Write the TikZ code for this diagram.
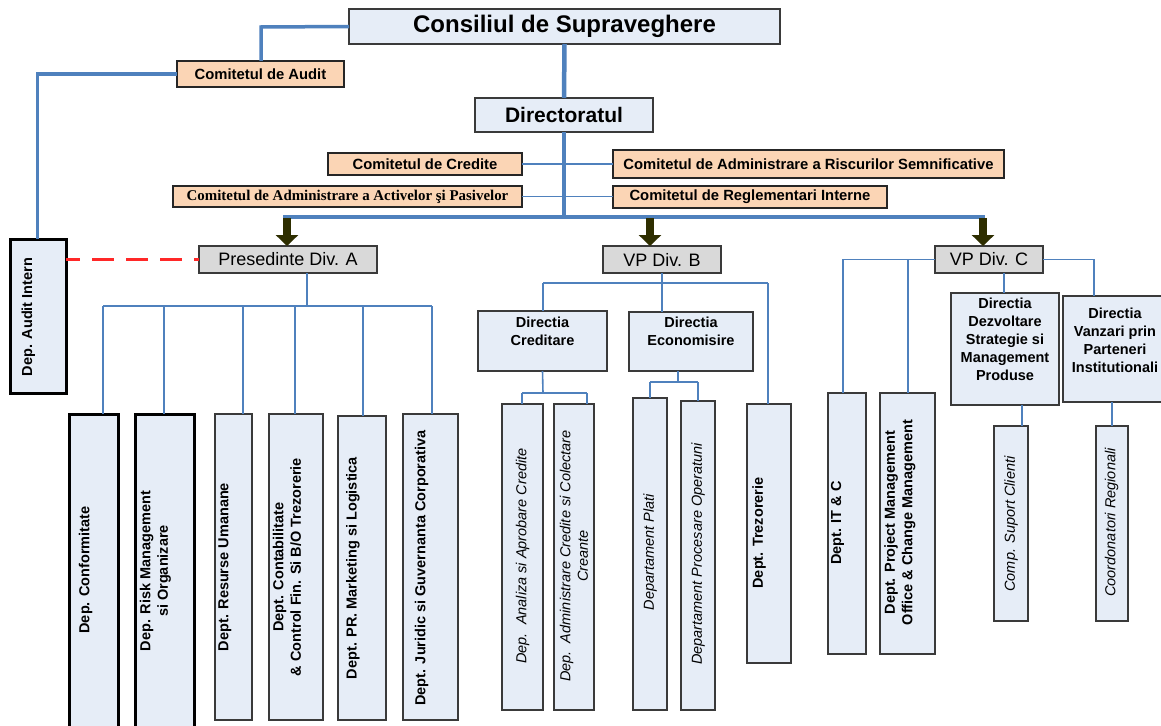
\documentclass[tikz,border=0pt]{standalone}
\usepackage{fontspec}
\setmainfont{Liberation Sans}
\newfontfamily\timesf{Liberation Serif}
\usetikzlibrary{arrows.meta}
\definecolor{boxblue}{HTML}{E6EDF7}
\definecolor{peach}{HTML}{FBD5B5}
\definecolor{divgray}{HTML}{D9D9D9}
\definecolor{lineblue}{HTML}{4F81BD}
\definecolor{boxline}{HTML}{3A3A3A}
\definecolor{olivedark}{HTML}{2E2E00}
\definecolor{auditred}{RGB}{255,40,40}
\tikzset{
  bxn/.style={draw=boxline, line width=1.5pt, fill=boxblue, inner sep=0pt, outer sep=0pt},
  bxthick/.style={bxn, draw=black, line width=3pt},
  commbox/.style={draw=black!85, line width=1.5pt, fill=peach, inner sep=0pt, outer sep=0pt, font=\fontsize{14.8}{17}\selectfont\bfseries},
  divbox/.style={draw=boxline, line width=1.5pt, fill=divgray, inner sep=0pt, outer sep=0pt, font=\fontsize{18}{21}\selectfont},
  thkline/.style={draw=lineblue, line width=4.5pt},
  medline/.style={draw=lineblue, line width=3.5pt},
  thnline/.style={draw=lineblue, line width=1.6pt},
  redline/.style={draw=auditred, line width=2.4pt, dash pattern=on 22pt off 12pt, dash phase=8pt},
  bigarrow/.style={draw=olivedark, line width=8pt, -{Triangle[width=22pt,length=11pt]}},
  vtext/.style={rotate=90, align=center, inner sep=0pt, font=\fontsize{14.5}{17.5}\selectfont\bfseries},
  vtexti/.style={rotate=90, align=center, inner sep=0pt, font=\fontsize{14.5}{17.5}\selectfont\itshape},
  htext/.style={align=center, inner sep=0pt, anchor=north, font=\fontsize{14.5}{18}\selectfont\bfseries},
}
\begin{document}
\begin{tikzpicture}[x=1pt,y=-1pt]
\fill[white] (0,0) rectangle (1161,725);
\useasboundingbox (0,0) rectangle (1161,725);

% ---------- top level ----------
\node[bxn, minimum width=431pt, minimum height=35pt, font=\fontsize{24}{28}\selectfont\bfseries] (cons) at (564.5,26.5) {Consiliul de Supraveghere};
\node[commbox, minimum width=167pt, minimum height=26pt] (audit) at (260.5,74) {Comitetul de Audit};
\node[bxn, minimum width=178pt, minimum height=34pt, font=\fontsize{21}{24}\selectfont\bfseries] (dir) at (564,115) {Directoratul};
\node[commbox, minimum width=194pt, minimum height=22pt] (cred) at (425,164) {Comitetul de Credite};
\node[commbox, minimum width=391pt, minimum height=28pt] (risc) at (808.5,164) {Comitetul de Administrare a Riscurilor Semnificative};
\node[commbox, minimum width=349pt, minimum height=21pt, font=\fontsize{14.9}{17}\timesf\bfseries] (activ) at (347.5,196.5) {Comitetul de Administrare a Activelor şi Pasivelor};
\node[commbox, minimum width=274pt, minimum height=22pt] (regl) at (750,197) {Comitetul de Reglementari Interne};

\node[bxthick, minimum width=56pt, minimum height=154pt] (ai) at (38,316) {};
\node[vtext] (aiT) at (28.5,317) {Dep. Audit Intern};

% ---------- top connectors ----------
\coordinate (cAud) at (261,27);
\draw[medline] (cons.west) -- (cAud) -- (cAud |- audit.north);
\coordinate (cAi) at (37.5,74);
\draw[medline] (audit.west) -- (cAi) -- (cAi |- ai.north);
\draw[thkline] (cons.south) -- (dir.north);
\coordinate (busL) at (283,217);
\coordinate (busR) at (985,217);
\draw[thkline] (dir.south) -- (dir.south |- busL);
\draw[thkline] (busL) -- (busR);
\draw[thnline] (cred.east) -- (risc.west);
\draw[thnline] (activ.east) -- (activ.east -| regl.west);

% ---------- division heads ----------
\node[divbox, minimum width=178pt, minimum height=27pt] (pa) at (288,259.5) {Presedinte Div. A};
\node[divbox, minimum width=118pt, minimum height=27pt] (vb) at (662,259.5) {VP Div. B};
\node[divbox, minimum width=108pt, minimum height=27pt] (vc) at (989,259.5) {VP Div. C};

\coordinate (aA) at (287,218);
\coordinate (aB) at (650,218);
\coordinate (aC) at (983,218);
\draw[bigarrow] (aA) -- (aA |- pa.north);
\draw[bigarrow] (aB) -- (aB |- vb.north);
\draw[bigarrow] (aC) -- (aC |- vc.north);

\draw[redline] (ai.east |- pa.west) -- (pa.west);

% ---------- Div A ----------
\node[bxthick, minimum width=49pt, minimum height=321pt] (conf) at (93.5,574.5) {};
\node[bxthick, minimum width=59pt, minimum height=321pt] (risk) at (164.5,574.5) {};
\node[bxn, minimum width=37pt, minimum height=306pt] (resu) at (233.5,567) {};
\node[bxn, minimum width=54pt, minimum height=306pt] (cont) at (296,567) {};
\node[bxn, minimum width=48pt, minimum height=304pt] (prm) at (362,568) {};
\node[bxn, minimum width=55pt, minimum height=306pt] (jur) at (430.5,567) {};

\node[vtext] (confT) at (85.5,570) {Dep. Conformitate};
\node[vtext] (riskT) at (155.5,571) {Dep. Risk Management\\si Organizare};
\node[vtext] (resuT) at (225,567) {Dept. Resurse Umanane};
\node[vtext] (contT) at (287,567) {Dept. Contabilitate\\\& Control Fin. Si B/O Trezorerie};
\node[vtext] (prmT) at (353,568) {Dept. PR. Marketing si Logistica};
\node[vtext] (jurT) at (421.5,568) {Dept. Juridic si Guvernanta Corporativa};

\coordinate (pA) at (307,273);
\coordinate (barA) at (307,306);
\draw[thnline] (pA) -- (barA);
\coordinate (dA1) at (103,306);
\coordinate (dA2) at (164,306);
\coordinate (dA3) at (243,306);
\coordinate (dA4) at (295,306);
\coordinate (dA5) at (363,306);
\coordinate (dA6) at (432,306);
\draw[thnline] (dA1) -- (dA6);
\draw[thnline] (dA1) -- (dA1 |- conf.north);
\draw[thnline] (dA2) -- (dA2 |- risk.north);
\draw[thnline] (dA3) -- (dA3 |- resu.north);
\draw[thnline] (dA4) -- (dA4 |- cont.north);
\draw[thnline] (dA5) -- (dA5 |- prm.north);
\draw[thnline] (dA6) -- (dA6 |- jur.north);

% ---------- Div B ----------
\node[bxn, minimum width=129pt, minimum height=60pt] (dcr) at (542.5,341) {};
\node[htext] (dcrT) at (542.5,317) {Directia\\Creditare};
\node[bxn, minimum width=124pt, minimum height=59pt] (dec) at (691,341.5) {};
\node[htext] (decT) at (691,317) {Directia\\Economisire};

\node[bxn, minimum width=41pt, minimum height=306pt] (anl) at (522.5,557) {};
\node[bxn, minimum width=40pt, minimum height=306pt] (adm) at (574,557) {};
\node[bxn, minimum width=34pt, minimum height=312pt] (pla) at (650,554) {};
\node[bxn, minimum width=34pt, minimum height=309pt] (pro) at (698,555.5) {};
\node[bxn, minimum width=44pt, minimum height=259pt] (tre) at (769,533.5) {};

\node[vtexti] (anlT) at (522.5,556) {Dep.~~Analiza si Aprobare Credite};
\node[vtexti] (admT) at (574,556) {Dep.~~Administrare Credite si Colectare\\Creante};
\node[vtexti] (plaT) at (650,552) {Departament Plati};
\node[vtexti] (proT) at (698,554) {Departament Procesare Operatuni};
\node[vtext] (treT) at (759,533) {Dept. Trezorerie};

\coordinate (barB) at (662,283);
\coordinate (dB1) at (543,283);
\coordinate (dB3) at (768,283);
\draw[thnline] (vb.south) -- (barB);
\draw[thnline] (dB1) -- (dB3);
\draw[thnline] (dB1) -- (dB1 |- dcr.north);
\draw[thnline] (barB) -- (barB |- dec.north);
\draw[thnline] (dB3) -- (dB3 |- tre.north);

\coordinate (cr1) at (543,393);
\coordinate (cr2) at (522,393);
\coordinate (cr3) at (587,393);
\draw[thnline] (dcr.south) -- (cr1);
\draw[thnline] (cr2) -- (cr3);
\draw[thnline] (cr2) -- (cr2 |- anl.north);
\draw[thnline] (cr3) -- (cr3 |- adm.north);

\coordinate (ec0) at (678,371);
\coordinate (ec1) at (678,382);
\coordinate (ec2) at (650,382);
\coordinate (ec3) at (698,382);
\draw[thnline] (ec0) -- (ec1);
\draw[thnline] (ec2) -- (ec3);
\draw[thnline] (ec2) -- (ec2 |- pla.north);
\draw[thnline] (ec3) -- (ec3 |- pro.north);

% ---------- Div C ----------
\node[bxn, minimum width=108pt, minimum height=112pt] (dez) at (1005,349) {};
\node[htext] (dezT) at (1005,298) {Directia\\Dezvoltare\\Strategie si\\Management\\Produse};
\node[bxn, minimum width=104pt, minimum height=106pt] (van) at (1115,349) {};
\node[htext] (vanT) at (1115,308) {Directia\\Vanzari prin\\Parteneri\\Institutionali};

\node[bxn, minimum width=38pt, minimum height=261pt] (itc) at (847,523.5) {};
\node[bxn, minimum width=55pt, minimum height=261pt] (pmo) at (907.5,523.5) {};
\node[bxn, minimum width=34pt, minimum height=195pt] (sup) at (1011,523.5) {};
\node[bxn, minimum width=32pt, minimum height=195pt] (coo) at (1112,523.5) {};

\node[vtext] (itcT) at (837.5,523) {Dept. IT \& C};
\node[vtext] (pmoT) at (900,522.5) {Dept. Project Management\\Office \& Change Management};
\node[vtexti] (supT) at (1011,524) {Comp. Suport Clienti};
\node[vtexti] (cooT) at (1111.5,522.5) {Coordonatori Regionali};

\coordinate (cL) at (843,259.5);
\coordinate (cM) at (908,259.5);
\draw[thnline] (vc.west) -- (cL) -- (cL |- itc.north);
\draw[thnline] (cM) -- (cM |- pmo.north);
\coordinate (cS) at (1004,273);
\draw[thnline] (cS) -- (cS |- dez.north);
\coordinate (cR) at (1094,259.5);
\draw[thnline] (vc.east) -- (cR) -- (cR |- van.north);
\coordinate (cSu) at (1022,405);
\draw[thnline] (cSu) -- (cSu |- sup.north);
\coordinate (cCo) at (1112,402);
\draw[thnline] (cCo) -- (cCo |- coo.north);
\end{tikzpicture}
\end{document}
